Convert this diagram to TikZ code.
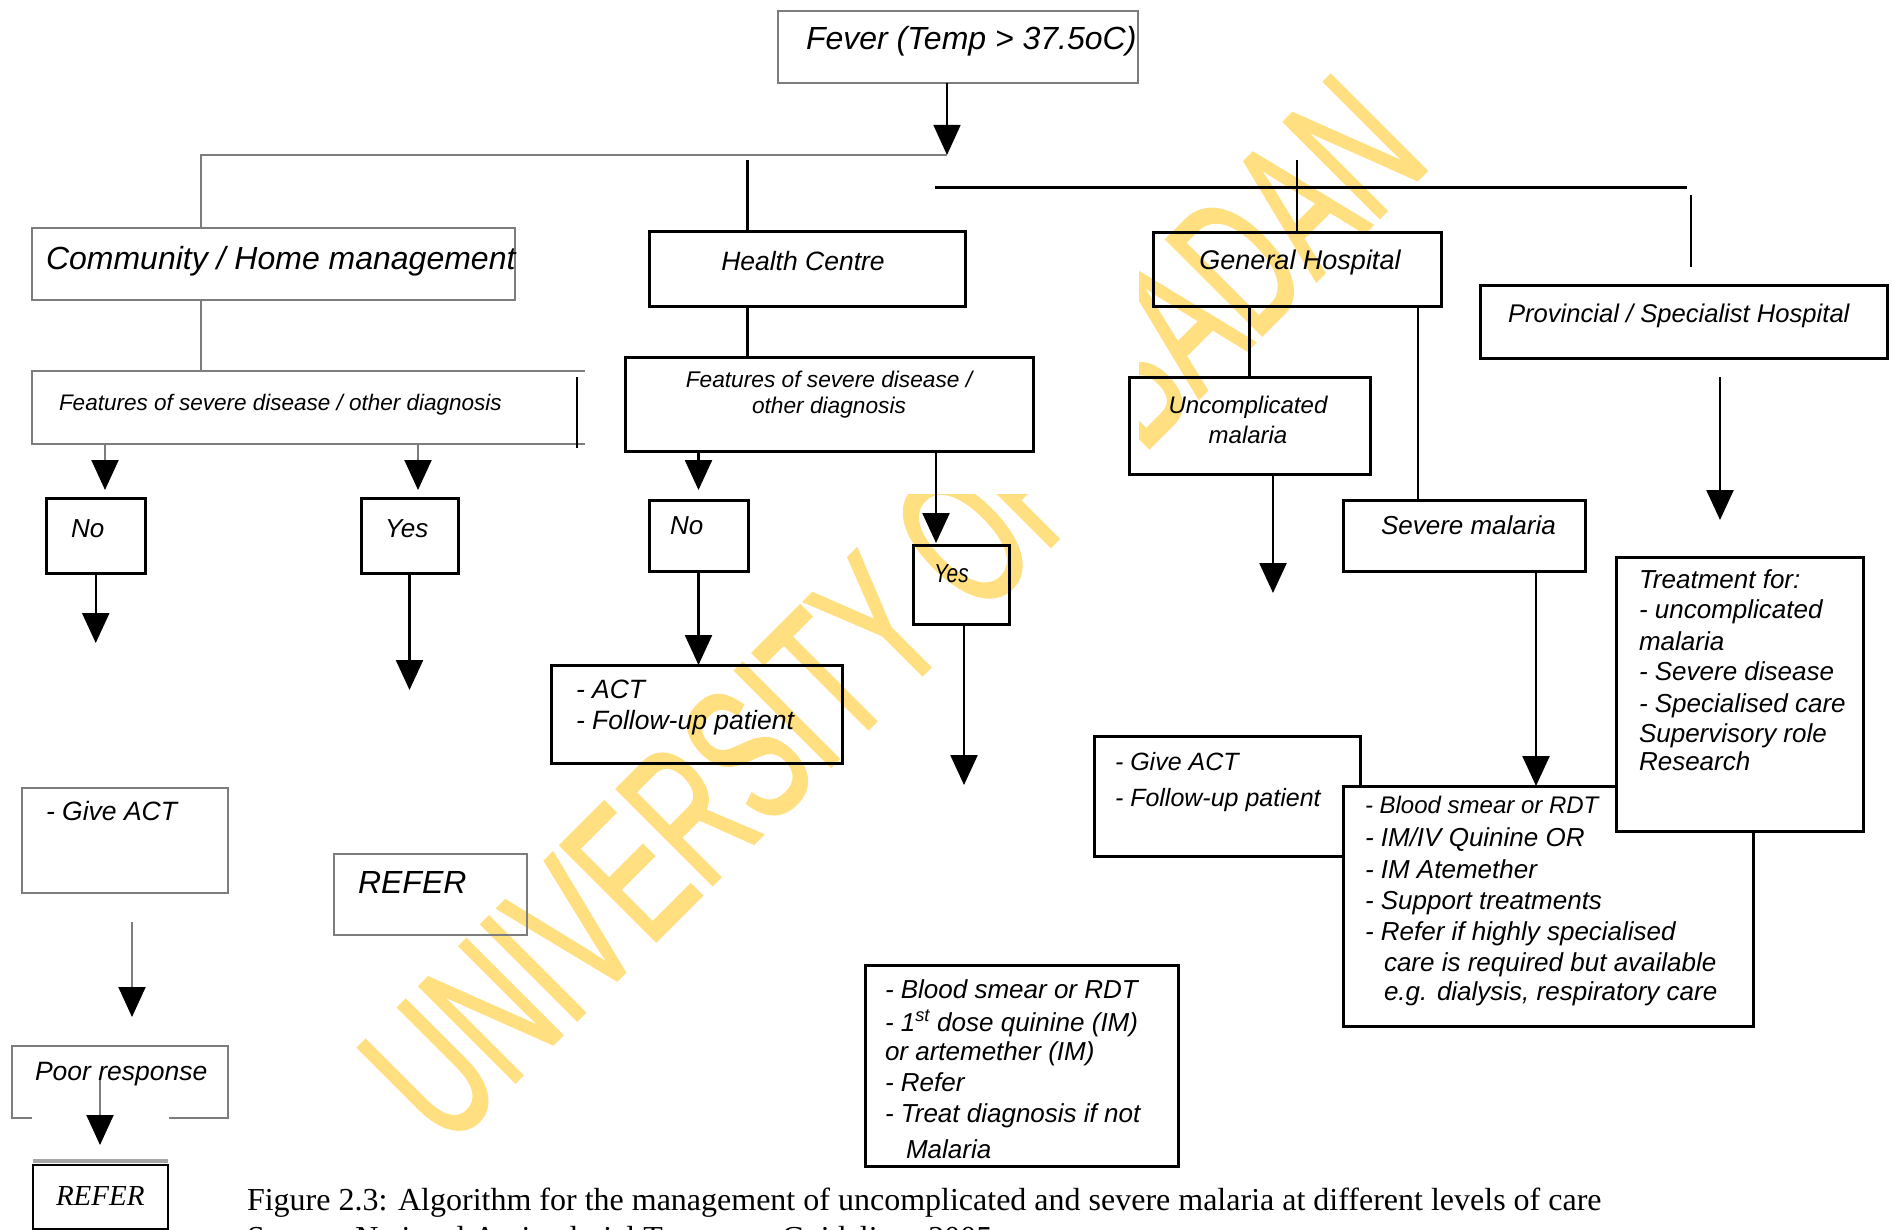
\documentclass[tikz,border=0pt]{standalone}
\usepackage{graphicx}
\usepackage{fontspec}
\setmainfont{Liberation Sans}
\newfontfamily\capfont{Liberation Serif}
\newfontfamily\wmfont[FakeBold=1.6]{Liberation Sans}
\usetikzlibrary{arrows.meta}
\definecolor{wmyellow}{RGB}{255,223,128}
\definecolor{lgray}{RGB}{125,125,125}
\newcommand{\setfs}[1]{\fontsize{#1}{#1}\selectfont}
\tikzset{
  bx/.style={draw=black, line width=3pt, inner sep=0pt, outer sep=0pt, anchor=north west, rectangle},
  gbx/.style={draw=lgray, line width=2pt, inner sep=0pt, outer sep=0pt, anchor=north west, rectangle},
  nbx/.style={draw=none, inner sep=0pt, outer sep=0pt, anchor=north west, rectangle},
  conn/.style={draw=black, line width=2.5pt},
  gconn/.style={draw=lgray, line width=2pt},
  tip/.style={-{Triangle[width=27pt,length=30pt,color=black]}},
  lbl/.style={inner sep=0pt, outer sep=0pt, anchor=base west, font=\itshape\setfs{26}},
}
\begin{document}
\begin{tikzpicture}[x=1pt,y=-1pt]
\useasboundingbox (0,0) rectangle (1892,1230);
\clip (0,0) rectangle (1892,1230);
\fill[white] (0,0) rectangle (1892,1230);
% watermark
\node[anchor=base west, rotate=45, inner sep=0pt, outer sep=0pt, text=wmyellow, font=\wmfont\setfs{196}] (wm) at (447,1150) {\scalebox{0.61}[1]{UNIVERSITY OF IBADAN}};
\fill[white] (850,250) rectangle (1139,494);

% boxes
\node[gbx, minimum width=360, minimum height=72] (fever) at (778,11) {};
\node[gbx, minimum width=483, minimum height=72] (comm) at (32,228) {};
\node[nbx, minimum width=553, minimum height=73] (featc) at (32,371) {};
\draw[gconn] (featc.north east) -- (featc.north west) -- (featc.south west) -- (featc.south east);
\coordinate (fr1) at (577,377);
\coordinate (fr2) at (577,448);
\draw[conn] (fr1) -- (fr2);
\node[bx, minimum width=98.5, minimum height=75] (cno) at (46.5,498) {};
\node[bx, minimum width=97, minimum height=75] (cyes) at (361,498) {};
\node[bx, minimum width=316, minimum height=75] (hc) at (649,232) {};
\node[bx, minimum width=408, minimum height=93] (hcf) at (625,358) {};
\node[bx, minimum width=99, minimum height=71] (hno) at (649,500) {};
\node[bx, minimum width=291, minimum height=98] (act) at (551,665) {};
\node[bx, minimum width=96, minimum height=79] (hyes) at (913,545) {};
\node[bx, minimum width=288, minimum height=74] (gh) at (1153,233) {};
\node[bx, minimum width=241, minimum height=97] (unc) at (1129,377) {};
\node[bx, minimum width=242, minimum height=71] (sev) at (1343,500) {};
\node[bx, minimum width=407, minimum height=73] (prov) at (1480,286) {};
\node[bx, minimum width=265.5, minimum height=120] (gact) at (1094.5,736) {};
\node[bx, fill=white, minimum width=410, minimum height=240] (svtx) at (1343,786) {};
\node[bx, fill=white, minimum width=247, minimum height=274] (treat) at (1616,557) {};
\node[bx, minimum width=313, minimum height=201] (hcbs) at (865,965) {};
\node[gbx, minimum width=206, minimum height=105] (cgact) at (22,788) {};
\node[nbx, minimum width=216.5, minimum height=72] (poor) at (11.5,1046) {};
\coordinate (pg1) at (32,1118);
\coordinate (pg2) at (169,1118);
\draw[gconn] (pg1) -- (poor.south west) -- (poor.north west) -- (poor.north east) -- (poor.south east) -- (pg2);
\node[gbx, minimum width=193.5, minimum height=81] (referm) at (333.5,854) {};
\node[bx, line width=2.5pt, minimum width=135, minimum height=64] (referb) at (33,1165) {};
\draw[draw=black!35, line width=4pt] (referb.north west) ++(0,-4) coordinate (rb1) -- (rb1 -| referb.north east);

% connectors
\coordinate (j1) at (947,155);
\coordinate (j2) at (201,155);
\draw[conn, line width=1.6pt, tip] (j1 |- fever.south) -- (j1);
\draw[gconn] (j1) -- (j2) -- (j2 |- comm.north);
\draw[gconn] (j2 |- comm.south) -- (j2 |- featc.north);
\coordinate (ca1) at (105,490);
\coordinate (ca2) at (418,490);
\draw[gconn, tip] (ca1 |- featc.south) -- (ca1);
\draw[gconn, tip] (ca2 |- featc.south) -- (ca2);
\path (cno.south) ++(0,70) coordinate (cnoend);
\draw[conn, tip] (cno.south) -- (cnoend);
\path (cyes.south) ++(0,117) coordinate (cyesend);
\draw[conn, tip] (cyes.south) -- (cyesend);

\coordinate (hctop) at (747.5,160);
\draw[conn] (hctop) -- (hctop |- hc.north);
\draw[conn] (hctop |- hc.south) -- (hctop |- hcf.north);
\coordinate (h1) at (935,188);
\coordinate (h2) at (1687,188);
\draw[conn, line width=3pt] (h1) -- (h2);
\coordinate (ghtop) at (1297,160);
\draw[conn] (ghtop) -- (ghtop |- gh.north);
\coordinate (pv1) at (1691,195);
\coordinate (pv2) at (1691,267);
\draw[conn] (pv1) -- (pv2);

\path (hno.north) ++(0,-10) coordinate (hnotip);
\draw[conn, tip] (hnotip |- hcf.south) -- (hnotip);
\coordinate (hytip) at (936,543);
\draw[conn, tip] (hytip |- hcf.south) -- (hytip);
\draw[conn, tip] (hno.south) -- (hno.south |- act.north);
\coordinate (hyend) at (964,785);
\draw[conn, tip] (hyend |- hyes.south) -- (hyend);

\draw[conn] (unc.north |- gh.south) -- (unc.north);
\path (gh.south east) ++(-23,0) coordinate (ghr);
\draw[conn] (ghr) -- (ghr |- sev.north);
\coordinate (uncend) at (1273,593);
\draw[conn, tip] (uncend |- unc.south) -- (uncend);
\coordinate (sevx) at (1536,571);
\draw[conn, tip] (sevx) -- (sevx |- svtx.north);
\coordinate (pa1) at (1720,377);
\coordinate (pa2) at (1720,520);
\draw[conn, tip] (pa1) -- (pa2);

\coordinate (g1) at (132,922);
\coordinate (g2) at (132,1017);
\draw[gconn, tip] (g1) -- (g2);
\coordinate (p1) at (100,1080);
\coordinate (p2) at (100,1145);
\draw[gconn, tip] (p1) -- (p2);

% texts
\node[lbl, font=\itshape\setfs{32}] (tfever) at (806,50) {Fever (Temp > 37.5oC)};
\node[lbl, font=\itshape\setfs{32}] (tcomm) at (46,270) {Community / Home management};
\node[lbl, font=\itshape\setfs{22.5}] (tfeatc) at (59,410) {Features of severe disease / other diagnosis};
\node[lbl] (tcno) at (71,537) {No};
\node[lbl] (tcyes) at (385,537) {Yes};
\node[lbl, anchor=base, font=\itshape\setfs{26.5}] (thc) at (803,271) {Health Centre};
\node[lbl, anchor=base, font=\itshape\setfs{22.7}] (thcf1) at (829,387) {Features of severe disease /};
\node[lbl, anchor=base, font=\itshape\setfs{22.7}] (thcf2) at (829,413) {other diagnosis};
\node[lbl] (thno) at (670,534) {No};
\node[lbl, font=\itshape\setfs{26.5}] (tact1) at (576,698) {- ACT};
\node[lbl, font=\itshape\setfs{26.5}] (tact2) at (576,729) {- Follow-up patient};
\node[lbl] (thyes) at (934,582) {\scalebox{0.8}[1]{Yes}};
\node[lbl, anchor=base, font=\itshape\setfs{27}] (tgh) at (1300,270) {General Hospital};
\node[lbl, anchor=base, font=\itshape\setfs{24}] (tunc1) at (1248,413) {Uncomplicated};
\node[lbl, anchor=base, font=\itshape\setfs{24}] (tunc2) at (1248,443) {malaria};
\node[lbl] (tsev) at (1381,534) {Severe malaria};
\node[lbl, font=\itshape\setfs{25.6}] (tprov) at (1508,323) {Provincial / Specialist Hospital};

\node[lbl] (tt1) at (1639,588) {Treatment for:};
\node[lbl] (tt2) at (1639,618) {- uncomplicated};
\node[lbl] (tt3) at (1639,650) {malaria};
\node[lbl] (tt4) at (1639,680) {- Severe disease};
\node[lbl] (tt5) at (1639,712) {- Specialised care};
\node[lbl] (tt6) at (1639,742) {Supervisory role};
\node[lbl] (tt7) at (1639,770) {Research};

\node[lbl, font=\itshape\setfs{25}] (tga1) at (1115,770) {- Give ACT};
\node[lbl, font=\itshape\setfs{25}] (tga2) at (1115,806) {- Follow-up patient};

\node[lbl, font=\itshape\setfs{24}] (ts1) at (1365,813) {- Blood smear or RDT};
\node[lbl] (ts2) at (1365,846) {- IM/IV Quinine OR};
\node[lbl] (ts3) at (1365,878) {- IM Atemether};
\node[lbl] (ts4) at (1365,909) {- Support treatments};
\node[lbl] (ts5) at (1365,940) {- Refer if highly specialised};
\node[lbl] (ts6) at (1384,971) {care is required but available};
\node[lbl] (ts7) at (1384,1000) {e.g. dialysis, respiratory care};

\node[lbl] (tb1) at (885,998) {- Blood smear or RDT};
\node[lbl] (tb2) at (885,1031) {- 1\textsuperscript{st} dose quinine (IM)};
\node[lbl] (tb3) at (885,1060) {or artemether (IM)};
\node[lbl] (tb4) at (885,1091) {- Refer};
\node[lbl] (tb5) at (885,1122) {- Treat diagnosis if not};
\node[lbl] (tb6) at (906,1158) {Malaria};

\node[lbl, font=\itshape\setfs{26.5}] (tcg) at (46,820) {- Give ACT};
\node[lbl, font=\itshape\setfs{26.5}] (tpoor) at (35,1080) {Poor response};
\node[lbl, font=\itshape\setfs{32}] (trm) at (358,893) {REFER};
\node[lbl, font=\capfont\itshape\setfs{29}] (trb) at (56,1205) {REFER};

\node[lbl, font=\capfont\setfs{32}] (cap1) at (247,1210) {Figure 2.3: Algorithm for the management of uncomplicated and severe malaria at different levels of care};
\node[lbl, font=\capfont\setfs{32}] (cap2) at (247,1248) {Source: National Antimalarial Treatment Guidelines 2005};
\end{tikzpicture}
\end{document}
